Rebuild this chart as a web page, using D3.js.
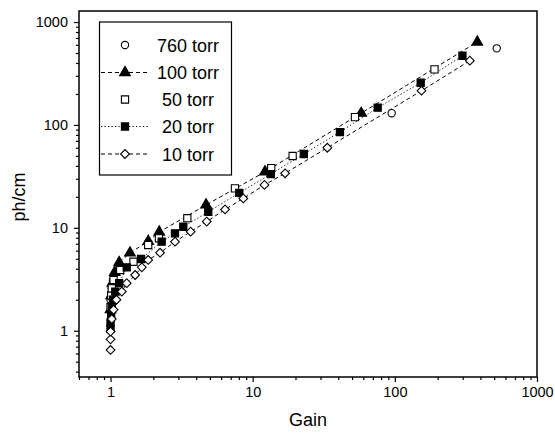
<!DOCTYPE html>
<html><head><meta charset="utf-8">
<script src="https://cdn.jsdelivr.net/npm/d3@7"></script>
<style>body{margin:0;background:#fff}svg{display:block}text{font-family:"Liberation Sans",Arial,sans-serif;fill:#000}</style>
</head><body><svg id="c" width="555" height="434"></svg>
<script>
// ---- data ----
const gain760 = [1.0, 1.02, 1.04, 95, 521];
const ph760   = [2.0, 2.6, 3.1, 130, 555];

const gain100 = [1.0, 1.01, 1.03, 1.07, 1.15, 1.37, 1.84, 2.2, 4.7, 12.2, 58, 380];
const ph100   = [1.6, 2.2, 2.9, 3.7, 4.6, 5.7, 7.4, 9.1, 16.7, 35, 130, 640];

const gain50 = [1.0, 1.01, 1.02, 1.05, 1.17, 1.45, 1.84, 2.19, 3.47, 7.5, 13.5, 19.1, 52.4, 190];
const ph50   = [1.7, 2.2, 2.58, 3.11, 3.89, 4.68, 6.81, 7.91, 12.4, 24.2, 38, 49.9, 119, 347];

const gain20 = [1.0, 1.0, 1.01, 1.02, 1.04, 1.08, 1.15, 1.30, 1.64, 2.29, 2.84, 3.25, 4.87, 8.05, 13.4, 22.9, 41.1, 75.7, 152, 299];
const ph20   = [1.05, 1.2, 1.4, 1.7, 2.0, 2.4, 2.9, 4.13, 4.98, 7.33, 8.84, 10.25, 14.3, 21.9, 33.3, 52.2, 85.3, 147, 257, 470];

const gain10 = [1.0, 1.0, 1.0, 1.02, 1.05, 1.10, 1.2, 1.3, 1.49, 1.66, 1.84, 2.23, 2.84, 3.66, 4.75, 6.39, 8.59, 12.1, 16.9, 33.5, 154, 337];
const ph10   = [0.65, 0.825, 0.98, 1.3, 1.6, 2.0, 2.4, 2.9, 3.48, 4.13, 4.87, 5.73, 7.33, 9.17, 11.5, 15.1, 19.3, 26.1, 33.9, 60, 215, 421];

const seriesNames = ["760 torr", "100 torr", "50 torr", "20 torr", "10 torr"];
const xTickLabels = [1, 10, 100, 1000];
const yTickLabels = [1, 10, 100, 1000];
const xLabel = "Gain", yLabel = "ph/cm";

// ---- layout ----
const L = 79, R = 537, T = 11, B = 377;
const svg = d3.select("#c");
const x = d3.scaleLog().domain([0.6, 1000]).range([L, R]);
const y = d3.scaleLog().domain([0.355, 1280]).range([B, T]);

const zip = (g, p) => g.map((v, i) => ({g: v, p: p[i]}));
const styles = [
  {name: seriesNames[0], data: zip(gain760, ph760), sym: "circle", fill: "#fff", dash: null},
  {name: seriesNames[1], data: zip(gain100, ph100), sym: "triangle", fill: "#000", dash: "4,3"},
  {name: seriesNames[2], data: zip(gain50, ph50), sym: "square", fill: "#fff", dash: null},
  {name: seriesNames[3], data: zip(gain20, ph20), sym: "square", fill: "#000", dash: "1.2,2.3"},
  {name: seriesNames[4], data: zip(gain10, ph10), sym: "diamond", fill: "#fff", dash: "4,3"}
];

function symPath(s) {
  if (s === "circle") return d3.symbol(d3.symbolCircle, 42)();
  if (s === "triangle") return d3.symbol(d3.symbolTriangle, 50)();
  if (s === "square") return d3.symbol(d3.symbolSquare, 52)();
  return d3.symbol(d3.symbolSquare, 38)();
}
function symRot(s) { return s === "diamond" ? " rotate(45)" : ""; }

// ---- axes ----
const minorX = [], minorY = [];
[0.1, 1, 10, 100].forEach(d => { for (let k = 2; k <= 9; k++) { const v = d * k; if (v >= 0.6 && v < 1000) minorX.push(v); } });
[0.1, 1, 10, 100, 1000].forEach(d => { for (let k = 2; k <= 9; k++) { const v = d * k; if (v >= 0.355 && v <= 1280 && v !== 1000) minorY.push(v); } });

const gx = svg.append("g").attr("transform", `translate(0,${B})`);
gx.call(d3.axisBottom(x).tickValues(xTickLabels).tickFormat(d3.format("d")).tickSize(5).tickPadding(5));
gx.append("g").call(d3.axisBottom(x).tickValues(minorX).tickFormat("").tickSize(3));
const gy = svg.append("g").attr("transform", `translate(${L},0)`);
gy.call(d3.axisLeft(y).tickValues(yTickLabels).tickFormat(d3.format("d")).tickSize(5).tickPadding(6));
gy.append("g").call(d3.axisLeft(y).tickValues(minorY).tickFormat("").tickSize(3));
svg.selectAll(".domain").remove();
svg.selectAll(".tick line").attr("stroke", "#000").attr("stroke-width", 1.2);
svg.selectAll(".tick text").attr("font-size", 14.5).attr("font-family", '"Liberation Sans",Arial,sans-serif').attr("fill", "#000");

svg.append("rect").attr("x", L).attr("y", T).attr("width", R - L).attr("height", B - T)
  .attr("fill", "none").attr("stroke", "#000").attr("stroke-width", 1.5);

svg.append("text").attr("x", 308).attr("y", 426).attr("text-anchor", "middle").attr("font-size", 18).text(xLabel);
svg.append("text").attr("transform", "translate(25,197) rotate(-90)").attr("text-anchor", "middle").attr("font-size", 18).text(yLabel);

// ---- series ----
const line = d3.line().x(d => x(d.g)).y(d => y(d.p));
styles.forEach(s => {
  if (s.dash) svg.append("path").attr("d", line(s.data)).attr("fill", "none").attr("stroke", "#000")
    .attr("stroke-width", 1).attr("stroke-dasharray", s.dash);
});
styles.forEach(s => {
  svg.append("g").selectAll("path").data(s.data).join("path")
    .attr("d", symPath(s.sym))
    .attr("transform", d => `translate(${x(d.g)},${y(d.p)})` + symRot(s.sym))
    .attr("fill", s.fill).attr("stroke", "#000").attr("stroke-width", 1.1);
});

// ---- legend ----
const lg = svg.append("g");
lg.append("rect").attr("x", 99.5).attr("y", 22).attr("width", 132).attr("height", 153)
  .attr("fill", "#fff").attr("stroke", "#000").attr("stroke-width", 1.2);
const ly = [45, 72.5, 99.5, 126.5, 154];
styles.forEach((s, i) => {
  if (s.dash) lg.append("line").attr("x1", 101).attr("x2", 150).attr("y1", ly[i]).attr("y2", ly[i])
    .attr("stroke", "#000").attr("stroke-width", 1).attr("stroke-dasharray", s.dash);
  lg.append("path").attr("d", symPath(s.sym)).attr("transform", `translate(125,${ly[i]})` + symRot(s.sym))
    .attr("fill", s.fill).attr("stroke", "#000").attr("stroke-width", 1.1);
  lg.append("text").attr("x", 188).attr("y", ly[i] + 6.5).attr("text-anchor", "middle").attr("font-size", 18).text(s.name);
});
</script></body></html>
